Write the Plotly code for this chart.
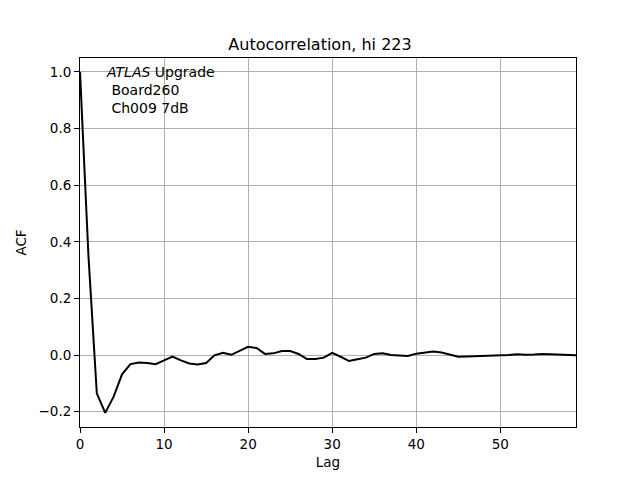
import plotly.graph_objects as go

lags = list(range(60))
acf = [1.0, 0.353, -0.135, -0.204, -0.147, -0.068, -0.032, -0.026, -0.028, -0.032,
       -0.019, -0.005, -0.019, -0.030, -0.033, -0.028, -0.001, 0.008, 0.001, 0.014,
       0.029, 0.025, 0.004, 0.006, 0.014, 0.014, 0.004, -0.014, -0.014, -0.009,
       0.008, -0.006, -0.021, -0.015, -0.009, 0.004, 0.006, 0.000, -0.001, -0.003,
       0.005, 0.010, 0.013, 0.009, 0.001, -0.006, -0.005, -0.004, -0.004, -0.002,
       -0.001, 0.000, 0.003, 0.001, 0.002, 0.004, 0.003, 0.002, 0.001, -0.001]
x_ticks = [0, 10, 20, 30, 40, 50]
y_ticks = [-0.2, 0.0, 0.2, 0.4, 0.6, 0.8, 1.0]

font = "DejaVu Sans"
fig = go.Figure(go.Scatter(x=lags, y=acf, mode="lines",
                           line=dict(color="black", width=2)))

axis_common = dict(showline=True, linecolor="black", linewidth=1, mirror=True,
                   ticks="outside", ticklen=5, tickwidth=1, tickcolor="black",
                   showgrid=True, gridcolor="#b0b0b0", gridwidth=1, zeroline=False,
                   tickfont=dict(family=font, size=13.5, color="black"))

W, H = 632, 472
fig.update_layout(
    width=W, height=H,
    margin=dict(l=72, r=64, t=50, b=53),
    paper_bgcolor="white", plot_bgcolor="white",
    showlegend=False,
    title=dict(text="Autocorrelation, hi 223", x=(320 - 8) / W, xanchor="center",
               y=1 - 36 / H, yanchor="middle",
               font=dict(family=font, size=16, color="black")),
    xaxis=dict(range=[0, 59], tickvals=x_ticks,
               title=dict(text="Lag", font=dict(family=font, size=13.5, color="black"), standoff=6),
               **axis_common),
    yaxis=dict(range=[-0.254, 1.049], tickvals=y_ticks, tickformat=".1f",
               title=dict(text="ACF", font=dict(family=font, size=13.5, color="black"), standoff=8),
               **axis_common),
    annotations=[dict(text="<i>ATLAS</i> Upgrade<br> Board260<br> Ch009 7dB",
                      xref="paper", yref="paper", x=0.048, y=0.988,
                      xanchor="left", yanchor="top", align="left", showarrow=False,
                      font=dict(family=font, size=14, color="black"))],
)

fig.write_html("out.html")
